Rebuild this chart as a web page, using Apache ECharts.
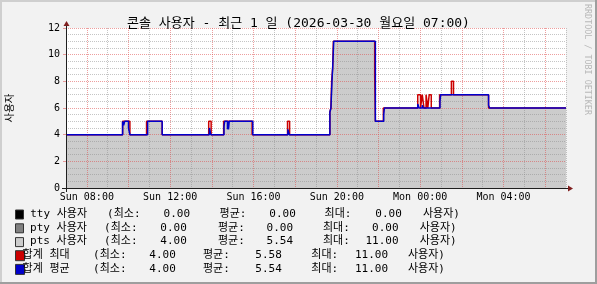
<!DOCTYPE html>
<html><head><meta charset="utf-8">
<script src="https://cdn.jsdelivr.net/npm/echarts@6/dist/echarts.min.js"></script>
<style>html,body{margin:0;padding:0;background:#f2f2f2}#c{width:597px;height:284px}</style>
</head><body><div id="c"></div>
<script>
// ---------- data ----------
const titleText = '콘솔 사용자 - 최근 1 일 (2026-03-30 월요일 07:00)';
const yAxisName = '사용자';
const watermark = 'RRDTOOL / TOBI OETIKER';
const xLabelHours = [8, 12, 16, 20, 24, 28];          // hours since Sun 00:00
const majorGridHours = [8, 10, 12, 14, 16, 18, 20, 22, 24, 26, 28, 30];
const minorGridHours = [9, 11, 13, 15, 17, 19, 21, 23, 25, 27, 29, 31];

// 합계 평균 / pts (value holds from the time until the next entry)
const avgTimes = ['Sun 07:00','Sun 09:43','Sun 09:46','Sun 09:49','Sun 10:00','Sun 10:04','Sun 10:55','Sun 11:37',
  'Sun 13:53','Sun 13:57','Sun 14:35','Sun 14:37','Sun 14:45','Sun 14:47','Sun 14:48','Sun 14:50','Sun 15:58',
  'Sun 17:39','Sun 17:43','Sun 19:40','Sun 19:43','Sun 19:46','Sun 19:48','Sun 19:51','Sun 21:51','Sun 22:15',
  'Sun 22:17','Sun 23:53','Sun 23:57','Mon 00:06','Mon 00:09','Mon 00:17','Mon 00:20','Mon 00:26','Mon 00:29',
  'Mon 00:57','Mon 00:59','Mon 03:17','Mon 03:20','Mon 07:00'];
const avgValues = [4,5,4.7,5,4.5,4,5,4,
  4.5,4,4.6,5,4.4,5,4.4,5,4,
  4.4,4,5.7,6,8,9,11,5,5.5,
  6,6.3,6,6.2,6,6.1,6,6.15,6,
  6.5,7,6.2,6,6];

// 합계 최대
const maxTimes = ['Sun 07:00','Sun 09:43','Sun 10:04','Sun 10:52','Sun 11:37','Sun 13:51','Sun 13:58','Sun 14:34',
  'Sun 15:56','Sun 17:38','Sun 17:44','Sun 19:40','Sun 19:43','Sun 19:45','Sun 19:48','Sun 19:50','Sun 21:49',
  'Sun 21:51','Sun 22:14','Sun 23:53','Mon 00:01','Mon 00:06','Mon 00:11','Mon 00:17','Mon 00:22','Mon 00:26',
  'Mon 00:32','Mon 00:56','Mon 01:30','Mon 01:36','Mon 03:17','Mon 07:00'];
const maxValues = [4,5,4,5,4,5,4,5,
  4,5,4,5.7,6,8,9,11,8.4,
  5,6,7,6,7,6,7,6,7,
  6,7,8,7,6,6];

const legendNames = ['tty 사용자', 'pty 사용자', 'pts 사용자', '합계 최대', '합계 평균'];
const legendColors = ['#000000', '#808080', '#CCCCCC', '#CC0000', '#0000CC'];
const legendMin = ['0.00', '0.00', '4.00', '4.00', '4.00'];
const legendAvg = ['0.00', '0.00', '5.54', '5.58', '5.54'];
const legendMax = ['0.00', '0.00', '11.00', '11.00', '11.00'];
const legendWords = { min: '(최소:', avg: '평균:', max: '최대:', unit: '사용자)' };

// ---------- helpers ----------
function toHours(s) {
  const [d, hm] = s.split(' ');
  const [h, m] = hm.split(':').map(Number);
  return (d === 'Mon' ? 24 : 0) + h + m / 60;
}
const avgData = avgTimes.map((t, i) => [toHours(t), avgValues[i]]);
const maxData = maxTimes.map((t, i) => [toHours(t), maxValues[i]]);
function pad(n) { return (n < 10 ? '0' : '') + n; }
function fmtHour(h) { return (h < 24 ? 'Sun ' : 'Mon ') + pad(h % 24) + ':00'; }

const FONT = '"DejaVu Sans Mono", "Noto Sans CJK KR", monospace';
const MINOR = 'rgba(140,140,140,0.5)';
const MAJOR = 'rgba(222,79,79,0.55)';
const AXIS = '#1f1f1f';
const ARROW = '#801f1f';

// ---------- layout (positions only) ----------
const G = { left: 66, top: 28, width: 500, height: 160 };
const rowLayout = [
  { y: 214,   sw: [15, 209.5, 8, 9], name: 30.2, min: 107.1, minR: 190,   avg: 219.6, avgR: 295.8, max: 324.6, maxR: 401.8, unit: 423 },
  { y: 227.8, sw: [15, 223.3, 8, 9], name: 30.1, min: 104.1, minR: 186.8, avg: 217.9, avgR: 293.1, max: 322.9, maxR: 398.5, unit: 419.7 },
  { y: 241.6, sw: [15, 237.1, 8, 9], name: 30.1, min: 104.1, minR: 186.8, avg: 217.9, avgR: 293.1, max: 322.9, maxR: 398.5, unit: 419.7 },
  { y: 255.2, sw: [15, 250.2, 9, 10], name: 22.6, min: 93.1, minR: 175.8, avg: 202.9, avgR: 281.8, max: 311.3, maxR: 388,   unit: 408 },
  { y: 268.9, sw: [15, 263.9, 9, 10], name: 22.6, min: 93.1, minR: 175.8, avg: 202.9, avgR: 281.8, max: 311.3, maxR: 388,   unit: 408 }
];

function txt(text, x, y, align, size, color) {
  return { type: 'text', z: 10, style: { text: text, x: x, y: y, font: size + 'px ' + FONT,
    fill: color || '#000', align: align, textAlign: align, verticalAlign: 'middle', textVerticalAlign: 'middle' } };
}

const graphics = [];
graphics.push({ type: 'rect', z: 0, shape: { x: 0, y: 0, width: 597, height: 2 }, style: { fill: '#cfcfcf' } });
graphics.push({ type: 'rect', z: 0, shape: { x: 0, y: 0, width: 2, height: 284 }, style: { fill: '#cfcfcf' } });
graphics.push({ type: 'rect', z: 0, shape: { x: 595, y: 0, width: 2, height: 284 }, style: { fill: '#9e9e9e' } });
graphics.push({ type: 'rect', z: 0, shape: { x: 0, y: 282, width: 597, height: 2 }, style: { fill: '#9e9e9e' } });
const x0 = G.left, y0 = G.top + G.height, x1 = G.left + G.width, yT = G.top;
graphics.push({ type: 'line', z: 10, shape: { x1: x0 - 4, y1: y0 + 0.5, x2: x1 + 4, y2: y0 + 0.5 }, style: { stroke: AXIS, lineWidth: 1 } });
graphics.push({ type: 'line', z: 10, shape: { x1: x0 + 0.5, y1: y0 + 4, x2: x0 + 0.5, y2: yT - 4 }, style: { stroke: AXIS, lineWidth: 1 } });
graphics.push({ type: 'polygon', z: 11, shape: { points: [[x1 + 2, y0 - 2.5], [x1 + 2, y0 + 3.5], [x1 + 7, y0 + 0.5]] }, style: { fill: ARROW } });
graphics.push({ type: 'polygon', z: 11, shape: { points: [[x0 - 2.5, yT - 2], [x0 + 3.5, yT - 2], [x0 + 0.5, yT - 7]] }, style: { fill: ARROW } });
graphics.push({ type: 'text', z: 10, x: 587, y: 4, rotation: -Math.PI / 2,
  style: { text: watermark, x: 0, y: 0, font: '8.4px ' + FONT, fill: '#b8b8b8',
    align: 'left', textAlign: 'left', verticalAlign: 'middle', textVerticalAlign: 'middle' } });
legendNames.forEach((name, i) => {
  const L = rowLayout[i];
  graphics.push({ type: 'rect', z: 10, shape: { x: L.sw[0] + 0.5, y: L.sw[1] + 0.5, width: L.sw[2], height: L.sw[3] },
    style: { fill: legendColors[i], stroke: '#333', lineWidth: 1 } });
  graphics.push(txt(name, L.name, L.y, 'left', 11));
  graphics.push(txt(legendWords.min, L.min, L.y, 'left', 11));
  graphics.push(txt(legendMin[i], L.minR, L.y, 'right', 11));
  graphics.push(txt(legendWords.avg, L.avg, L.y, 'left', 11));
  graphics.push(txt(legendAvg[i], L.avgR, L.y, 'right', 11));
  graphics.push(txt(legendWords.max, L.max, L.y, 'left', 11));
  graphics.push(txt(legendMax[i], L.maxR, L.y, 'right', 11));
  graphics.push(txt(legendWords.unit, L.unit, L.y, 'left', 11));
});

const hidden = { axisLine: { show: false }, axisLabel: { show: false } };

const option = {
  animation: false,
  backgroundColor: '#f2f2f2',
  title: { text: titleText, left: 'center', top: 12,
    textStyle: { fontFamily: FONT, fontSize: 13, fontWeight: 'normal', color: '#000' } },
  grid: Object.assign({ show: true, backgroundColor: '#ffffff', borderWidth: 0, containLabel: false, outerBoundsMode: 'none' }, G),
  xAxis: [
    { type: 'value', min: 7, max: 31, z: 1.5,
      axisLine: { show: false },
      axisTick: { show: false, customValues: xLabelHours },
      axisLabel: { show: true, customValues: xLabelHours, formatter: v => fmtHour(v), margin: 4,
        fontFamily: FONT, fontSize: 10, color: '#000' },
      splitLine: { show: false } },
    Object.assign({ type: 'value', min: 7, max: 31, z: 1.4,
      splitLine: { show: true, lineStyle: { color: MINOR, type: [1, 1], width: 1 } } }, hidden,
      { axisTick: { show: false, customValues: minorGridHours } }),
    Object.assign({ type: 'value', min: 7, max: 31, z: 1.5,
      splitLine: { show: true, lineStyle: { color: MAJOR, type: [1, 1], width: 1 } } }, hidden,
      { axisTick: { show: false, customValues: majorGridHours } })
  ],
  yAxis: {
    type: 'value', min: 0, max: 12, interval: 2, z: 1.5,
    name: yAxisName, nameLocation: 'middle', nameGap: 50, nameRotate: 90,
    nameTextStyle: { fontFamily: FONT, fontSize: 10.5, color: '#000' },
    axisLine: { show: false },
    axisTick: { show: true, length: 3, lineStyle: { color: MAJOR } },
    axisLabel: { fontFamily: FONT, fontSize: 10, color: '#000', margin: 6 },
    splitLine: { show: true, lineStyle: { color: MAJOR, type: [1, 1], width: 1 } },
    minorTick: { show: false, splitNumber: 4 },
    minorSplitLine: { show: true, lineStyle: { color: MINOR, type: [1, 1], width: 1 } }
  },
  series: [
    { name: 'pts 사용자', type: 'line', step: 'end', data: avgData, symbol: 'none', z: 1,
      lineStyle: { width: 0 }, areaStyle: { color: '#CCCCCC', opacity: 1 } },
    { name: '합계 최대', type: 'line', step: 'end', data: maxData, symbol: 'none', z: 3,
      lineStyle: { color: '#CC0000', width: 1.5 } },
    { name: '합계 평균', type: 'line', step: 'end', data: avgData, symbol: 'none', z: 4,
      lineStyle: { color: '#0000CC', width: 1.5 } }
  ],
  graphic: { elements: graphics }
};
const chart = echarts.init(document.getElementById('c'), null, { renderer: 'canvas' });
chart.setOption(option);
</script></body></html>
